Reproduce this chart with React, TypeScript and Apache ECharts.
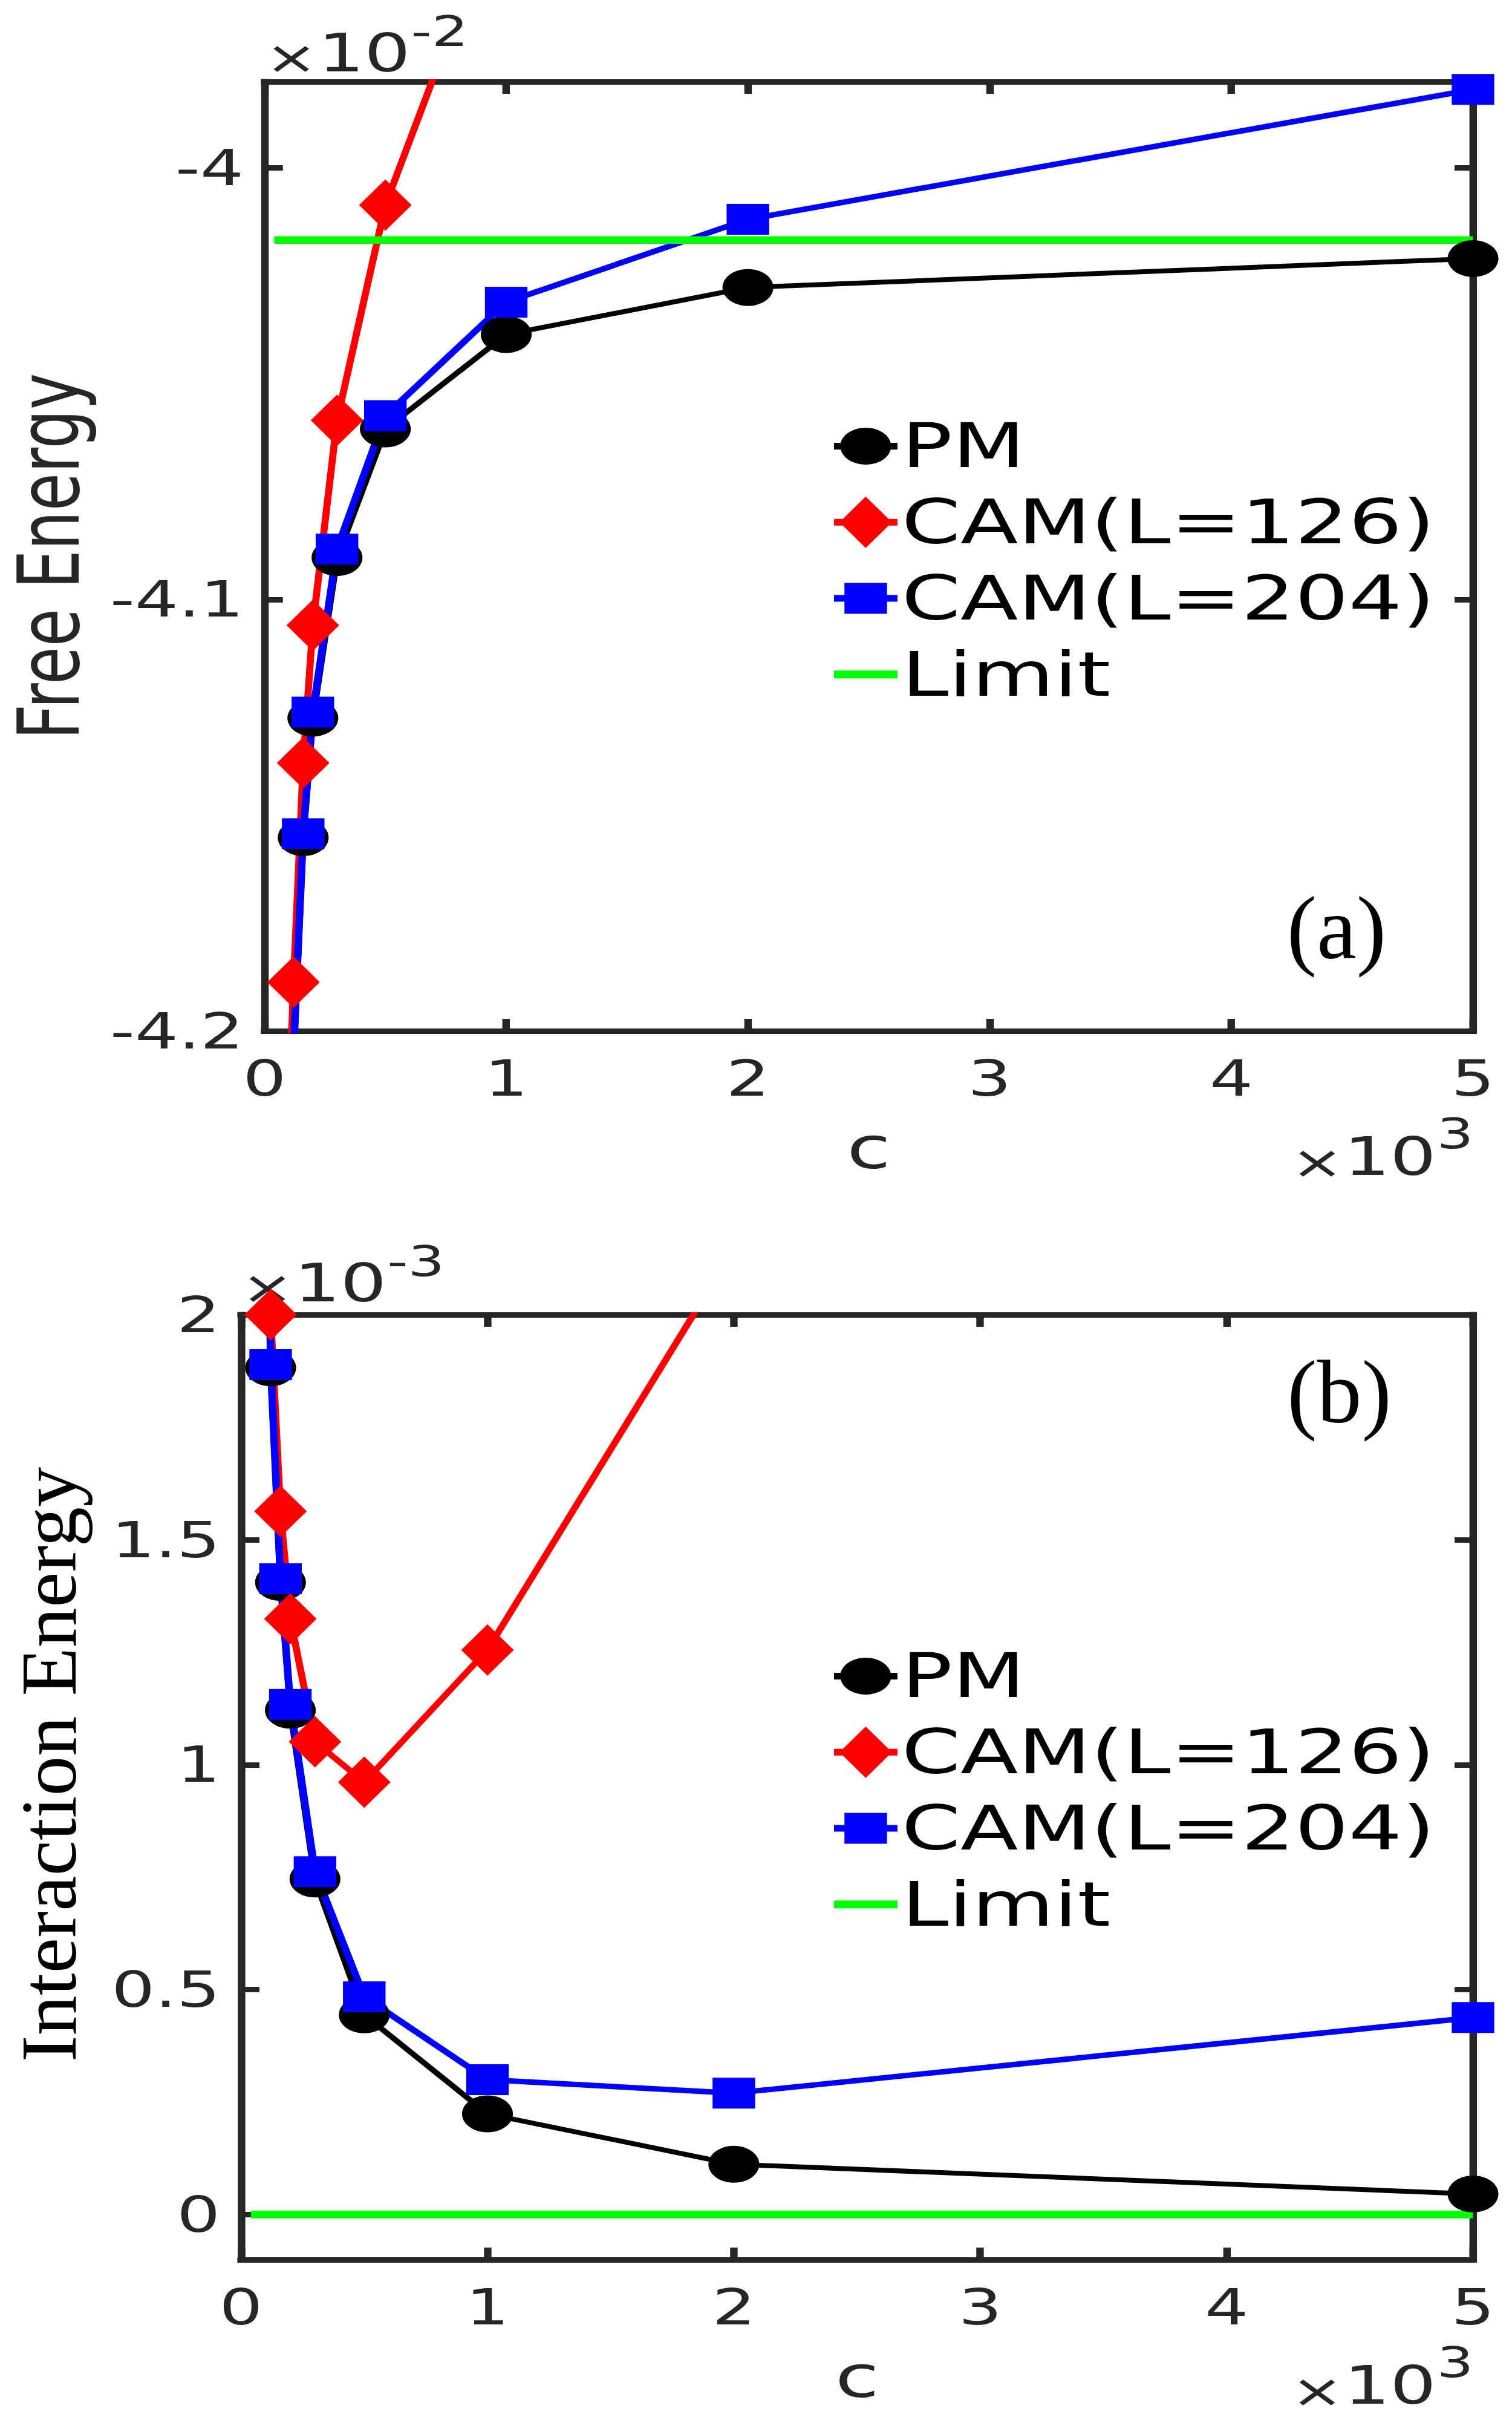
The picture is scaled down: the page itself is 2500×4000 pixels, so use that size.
import React, { useEffect, useRef } from "react";
import * as echarts from "echarts";

// c in units of 10^3
const cValues = [0.1, 0.12, 0.16, 0.2, 0.3, 0.5, 1, 2, 5];

// Free energy, units of 10^-2
const freePM = [-4.3, -4.206, -4.1552, -4.1275, -4.0903, -4.0605, -4.0386, -4.0277, -4.021];
const freeCAM126 = [-4.22, -4.1887, -4.1379, -4.106, -4.0585, -4.0086, -3.9345, -3.85, -3.6];
const freeCAM204 = [-4.3, -4.205, -4.1543, -4.1261, -4.0883, -4.0574, -4.0311, -4.0119, -3.9818];
const freeLimit = -4.0167;

// Interaction energy, units of 10^-3
const interPM = [2.65, 1.882, 1.405, 1.121, 0.746, 0.444, 0.224, 0.112, 0.046];
const interCAM126 = [2.6, 2.0, 1.563, 1.324, 1.051, 0.961, 1.255, 2.146, 3.4];
const interCAM204 = [2.7, 1.889, 1.413, 1.134, 0.762, 0.484, 0.3, 0.27, 0.438];
const interLimit = 0;

const limitSpan = [0.04, 5];

const xTicks = [0, 1, 2, 3, 4, 5];
const freeTicks = [-4.2, -4.1, -4];
const interTicks = [0, 0.5, 1, 1.5, 2];

const seriesNames = ["PM", "CAM(L=126)", "CAM(L=204)", "Limit"];

// The figure is drawn on a narrower canvas and stretched horizontally.
const CANVAS_W = 1812;
const S = 2500 / CANVAS_W;
const nx = (v: number) => v / S;

const AXIS = "#262626";
const SANS = "DejaVu Sans";
const SERIF = "Liberation Serif";

const panels = [
  { left: 435.5, right: 2435.5, top: 135, bottom: 1704, yMin: -4.2, yMax: -3.98, yTicks: freeTicks },
  { left: 398.6, right: 2435.5, top: 2173, bottom: 3735, yMin: -0.1, yMax: 2, yTicks: interTicks },
];

const legendIcons = [
  "path://M0,25H76V36H0Z M68.5,30.5C68.5,47.34 54.84,61 38,61C21.16,61 7.5,47.34 7.5,30.5C7.5,13.66 21.16,0 38,0C54.84,0 68.5,13.66 68.5,30.5Z",
  "path://M0,37H76V48H0Z M38,0L69.5,42.5L38,85L6.5,42.5Z",
  "path://M0,25H76V36H0Z M12.5,5H63.5V56H12.5Z",
  "path://M0,0H76V13H0Z",
];

const pairs = (ys: number[]) => cValues.map((c, i) => [c, ys[i]]);

function buildOption() {
  const grid = panels.map((p) => ({
    left: nx(p.left),
    top: p.top,
    width: nx(p.right) - nx(p.left),
    height: p.bottom - p.top,
    containLabel: false,
  }));

  const xAxis: any[] = [];
  const yAxis: any[] = [];
  panels.forEach((p, gi) => {
    ["bottom", "top"].forEach((pos) => {
      const main = pos === "bottom";
      xAxis.push({
        type: "value",
        gridIndex: gi,
        position: pos,
        min: 0,
        max: 5,
        axisLine: { show: true, onZero: false, lineStyle: { color: AXIS, width: 9, cap: "square" } },
        axisTick: { show: true, inside: true, length: 20, customValues: xTicks, lineStyle: { color: AXIS, width: 9 } },
        axisLabel: {
          show: main,
          customValues: xTicks,
          margin: 37,
          color: AXIS,
          fontSize: 82,
          fontFamily: SANS,
        },
        splitLine: { show: false },
        name: main ? "c" : "",
        nameLocation: "middle",
        nameGap: 146,
        nameTextStyle: { color: AXIS, fontSize: 96, fontFamily: SANS },
      });
    });
    ["left", "right"].forEach((pos) => {
      const main = pos === "left";
      yAxis.push({
        type: "value",
        gridIndex: gi,
        position: pos,
        min: p.yMin,
        max: p.yMax,
        axisLine: { show: true, onZero: false, lineStyle: { color: AXIS, width: 9, cap: "square" } },
        axisTick: { show: true, inside: true, length: 22, customValues: p.yTicks, lineStyle: { color: AXIS, width: 9 } },
        axisLabel: {
          show: main,
          customValues: p.yTicks,
          margin: 25,
          color: AXIS,
          fontSize: 82,
          fontFamily: SANS,
        },
        splitLine: { show: false },
        name: main && gi === 0 ? "Free Energy" : "",
        nameLocation: "middle",
        nameGap: 207,
        nameTextStyle: { color: AXIS, fontSize: 102, fontFamily: SANS },
      });
    });
  });

  const panelData = [
    { pm: freePM, c126: freeCAM126, c204: freeCAM204, limit: freeLimit },
    { pm: interPM, c126: interCAM126, c204: interCAM204, limit: interLimit },
  ];

  const series: any[] = [];
  panelData.forEach((d, gi) => {
    const common = {
      type: "line",
      xAxisIndex: gi * 2,
      yAxisIndex: gi * 2,
      clip: true,
      silent: true,
      emphasis: { disabled: true },
    };
    series.push({
      ...common,
      name: seriesNames[0],
      data: pairs(d.pm),
      symbol: "circle",
      symbolSize: 61,
      color: "#000000",
      lineStyle: { color: "#000000", width: 8 },
      itemStyle: { color: "#000000", borderWidth: 0 },
    });
    series.push({
      ...common,
      name: seriesNames[1],
      data: pairs(d.c126),
      symbol: "diamond",
      symbolSize: [63, 85],
      color: "#ff0000",
      lineStyle: { color: "#ff0000", width: 8.5 },
      itemStyle: { color: "#ff0000", borderWidth: 0 },
    });
    series.push({
      ...common,
      name: seriesNames[2],
      data: pairs(d.c204),
      symbol: "rect",
      symbolSize: [51, 51],
      color: "#0000ff",
      lineStyle: { color: "#0000ff", width: 9 },
      itemStyle: { color: "#0000ff", borderWidth: 0 },
    });
    series.push({
      ...common,
      name: seriesNames[3],
      data: limitSpan.map((c) => [c, d.limit]),
      symbol: "none",
      showSymbol: false,
      color: "#00ff00",
      lineStyle: { color: "#00ff00", width: 12.5 },
    });
  });

  const legendTops = [686.9, 2719.9];
  const legend = legendTops.map((top) => ({
    orient: "vertical",
    left: nx(1379),
    top,
    padding: 0,
    itemWidth: 76,
    itemHeight: 85,
    itemGap: 24.8,
    symbolKeepAspect: true,
    selectedMode: false,
    textStyle: { color: "#000000", fontSize: 101, fontFamily: SANS },
    data: seriesNames.map((name, i) => ({ name, icon: legendIcons[i] })),
  }));

  const sansText = (text: string, x: number, y: number, size: number) => ({
    type: "text",
    x,
    y,
    silent: true,
    style: {
      text,
      fill: AXIS,
      fontSize: size,
      fontFamily: SANS,
      align: "left",
      textAlign: "left",
      verticalAlign: "middle",
      textVerticalAlign: "middle",
    },
  });

  const serifText = (text: string, x: number, y: number, size: number, rotated: boolean) => ({
    type: "text",
    x,
    y,
    rotation: rotated ? Math.PI / 2 : 0,
    scaleX: rotated ? 1 : 1 / S,
    scaleY: rotated ? 1 / S : 1,
    silent: true,
    style: {
      text,
      fill: "#000000",
      fontSize: size,
      fontFamily: SERIF,
      align: "center",
      textAlign: "center",
      verticalAlign: "middle",
      textVerticalAlign: "middle",
    },
  });

  // multiplier labels: "×", "10" and the exponent as three pieces
  const multiplier = (x: number, yTimes: number, yBase: number, yExp: number, exp: string, xExp: number) => [
    sansText("×", x, yTimes, 75),
    sansText("10", x + 63.5, yBase, 87),
    sansText(exp, xExp, yExp, 69),
  ];

  const graphic = [
    ...multiplier(317.7, 94.7, 87.7, 52.7, "-2", 492.5),
    ...multiplier(289, 2128, 2121, 2085.7, "-3", 464),
    ...multiplier(1547, 1920.5, 1912, 1874.7, "3", 1722),
    ...multiplier(1547, 3951.5, 3943, 3905.7, "3", 1722),
    // panel tags and the interaction-energy title
    serifText("(a)", nx(2210), 1534.5, 148, false),
    serifText("(b)", nx(2214.5), 2301, 148, false),
    serifText("Interaction Energy", nx(80), 2916.5, 132, true),
  ];

  return {
    animation: false,
    backgroundColor: "#ffffff",
    grid,
    xAxis,
    yAxis,
    series,
    legend,
    graphic,
  };
}

export default function App() {
  const ref = useRef<HTMLDivElement>(null);
  useEffect(() => {
    if (!ref.current) return;
    const chart = echarts.init(ref.current, null, { renderer: "svg" });
    chart.setOption(buildOption() as any);
    return () => chart.dispose();
  }, []);
  return (
    <div
      style={{
        position: "absolute",
        left: 0,
        top: 0,
        width: 2500,
        height: 4000,
        overflow: "hidden",
        background: "#ffffff",
      }}
    >
      <div
        ref={ref}
        style={{
          width: CANVAS_W,
          height: 4000,
          transform: `scaleX(${S})`,
          transformOrigin: "0 0",
        }}
      />
    </div>
  );
}
